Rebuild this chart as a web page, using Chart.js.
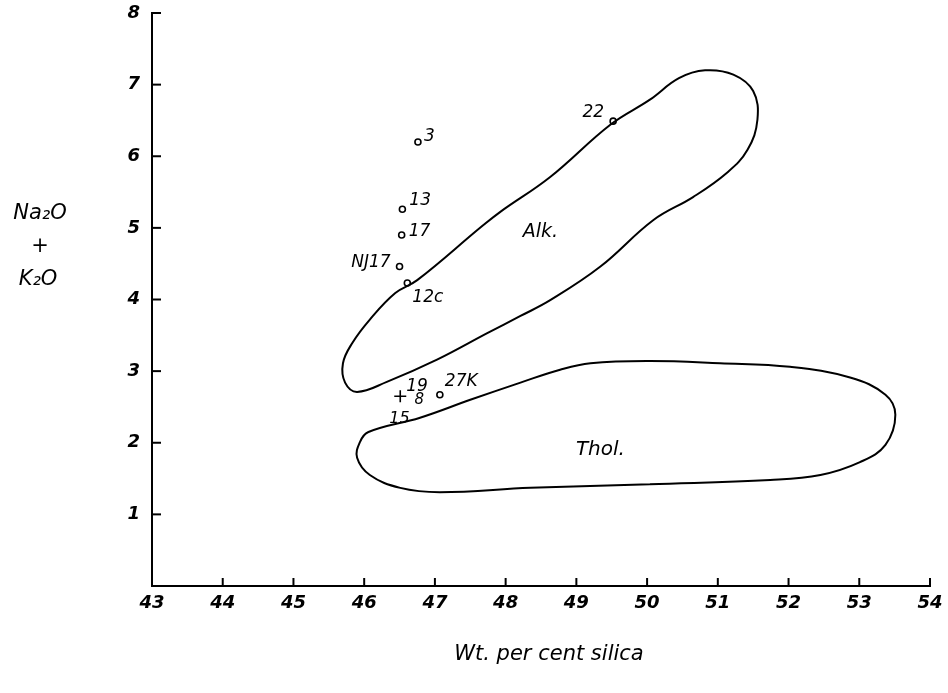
<!DOCTYPE html>
<html>
<head>
<meta charset="utf-8">
<script src="https://cdn.jsdelivr.net/npm/chart.js@4"></script>
<style>
  html, body { margin: 0; padding: 0; background: #fff; }
  #wrap { width: 948px; height: 693px; }
</style>
</head>
<body>
<div id="wrap"><canvas id="tas"></canvas></div>
<script>
// Samples (wt% SiO2, Na2O + K2O)
const sampleNames = ['3', '13', '17', 'NJ17', '12c', '22', '27K', '19'];
const sampleSilica = [46.76, 46.54, 46.53, 46.50, 46.61, 49.52, 47.07, 46.51];
const sampleAlkali = [6.20, 5.26, 4.90, 4.46, 4.23, 6.49, 2.67, 2.65];
const sampleMarker = ['circle', 'circle', 'circle', 'circle', 'circle', 'circle', 'circle', 'cross'];
// label offsets in px from the point
const labelDx = [6, 7, 7, -9, 5, -9, 5, 6];
const labelDy = [-5, -9, -3, -4, 15, -9, -13, -10];
const labelAlign = ['left', 'left', 'left', 'right', 'left', 'right', 'left', 'left'];

// Alkaline field outline
const alkSilica = [47.60, 47.92, 48.63, 49.48, 50.04, 50.45, 50.82, 51.22, 51.50, 51.56, 51.42, 51.13, 50.65, 50.09, 49.34, 48.63, 48.21, 47.74, 47.03, 46.32, 45.90, 45.73, 45.70, 45.83, 46.08, 46.44, 46.75, 47.60];
const alkAlkali = [4.97, 5.22, 5.71, 6.44, 6.79, 7.09, 7.20, 7.14, 6.91, 6.51, 6.09, 5.77, 5.43, 5.11, 4.46, 3.99, 3.77, 3.53, 3.16, 2.85, 2.71, 2.84, 3.11, 3.39, 3.72, 4.09, 4.27, 4.97];

// Tholeiitic field outline
const tholSilica = [50.04, 48.35, 47.07, 46.51, 46.08, 45.90, 45.94, 46.06, 46.79, 47.50, 48.21, 48.77, 49.20, 50.04, 51.03, 52.02, 52.87, 53.37, 53.51, 53.37, 53.01, 52.45, 51.74, 50.04];
const tholAlkali = [1.42, 1.37, 1.31, 1.37, 1.55, 1.79, 2.01, 2.15, 2.35, 2.60, 2.84, 3.02, 3.11, 3.14, 3.11, 3.06, 2.91, 2.67, 2.39, 1.97, 1.73, 1.55, 1.48, 1.42];

// Free text in the plot
const noteText = ['Alk.', 'Thol.', '8', '15'];
const noteSilica = [48.49, 49.34, 46.78, 46.50];
const noteAlkali = [4.94, 1.90, 2.59, 2.34];
const noteSize = [19, 20, 15, 16];

const xTicks = [43, 44, 45, 46, 47, 48, 49, 50, 51, 52, 53, 54];
const yTicks = [1, 2, 3, 4, 5, 6, 7, 8];

function toPts(xs, ys) {
    return xs.map((x, i) => ({ x: x, y: ys[i] }));
}

// inward tick marks, point labels, notes and axis titles
const decorations = {
    id: 'decorations',
    afterDraw(chart) {
        const ctx = chart.ctx;
        const xs = chart.scales.x, ys = chart.scales.y;
        const area = chart.chartArea;
        ctx.save();
        ctx.strokeStyle = '#000';
        ctx.lineWidth = 2;
        xTicks.forEach(v => {
            const px = xs.getPixelForValue(v);
            ctx.beginPath();
            ctx.moveTo(px, area.bottom);
            ctx.lineTo(px, area.bottom - 8);
            ctx.stroke();
        });
        yTicks.forEach(v => {
            const py = ys.getPixelForValue(v);
            ctx.beginPath();
            ctx.moveTo(area.left, py);
            ctx.lineTo(area.left + 9, py);
            ctx.stroke();
        });

        ctx.fillStyle = '#000';
        ctx.textBaseline = 'middle';
        ctx.font = 'italic 17px "DejaVu Sans", sans-serif';
        const meta = chart.getDatasetMeta(2);
        meta.data.forEach((pt, i) => {
            ctx.textAlign = labelAlign[i];
            ctx.fillText(sampleNames[i], pt.x + labelDx[i], pt.y + labelDy[i]);
        });

        ctx.textAlign = 'center';
        noteText.forEach((t, i) => {
            ctx.font = 'italic ' + noteSize[i] + 'px "DejaVu Sans", sans-serif';
            ctx.fillText(t, xs.getPixelForValue(noteSilica[i]), ys.getPixelForValue(noteAlkali[i]));
        });

        ctx.font = 'italic 21px "DejaVu Sans", sans-serif';
        ctx.fillText('Wt. per cent silica', (area.left + area.right) / 2 + 8, 655);
        ctx.fillText('Na\u2082O', 40, 214);
        ctx.fillText('+', 40, 247);
        ctx.fillText('K\u2082O', 38, 280);
        ctx.restore();
    }
};

new Chart(document.getElementById('tas'), {
    type: 'scatter',
    data: {
        datasets: [
            {
                label: 'Alk.',
                data: toPts(alkSilica, alkAlkali),
                showLine: true,
                tension: 0.4,
                borderColor: '#000',
                borderWidth: 2,
                pointRadius: 0,
                fill: false
            },
            {
                label: 'Thol.',
                data: toPts(tholSilica, tholAlkali),
                showLine: true,
                tension: 0.4,
                borderColor: '#000',
                borderWidth: 2,
                pointRadius: 0,
                fill: false
            },
            {
                label: 'Samples',
                data: toPts(sampleSilica, sampleAlkali),
                pointStyle: sampleMarker,
                pointRadius: sampleMarker.map(m => m === 'cross' ? 6 : 3),
                pointBorderWidth: 1.6,
                pointBorderColor: '#000',
                pointBackgroundColor: '#fff'
            }
        ]
    },
    options: {
        responsive: true,
        maintainAspectRatio: false,
        animation: false,
        layout: { padding: { top: 13, right: 18, left: 0, bottom: 0 } },
        plugins: {
            legend: { display: false },
            tooltip: { enabled: false }
        },
        scales: {
            x: {
                type: 'linear',
                min: 43,
                max: 54,
                afterBuildTicks: s => { s.ticks = xTicks.map(v => ({ value: v })); },
                afterFit: s => { s.height = 107; s.paddingLeft = 0; s.paddingRight = 0; },
                grid: { display: false, drawTicks: false },
                border: { display: true, color: '#000', width: 2 },
                ticks: {
                    padding: 7,
                    color: '#000',
                    font: { family: '"DejaVu Sans", sans-serif', style: 'italic', weight: 'bold', size: 18 }
                }
            },
            y: {
                type: 'linear',
                min: 0,
                max: 8,
                afterBuildTicks: s => { s.ticks = yTicks.map(v => ({ value: v })); },
                afterFit: s => { s.width = 152; s.paddingTop = 0; s.paddingBottom = 0; },
                grid: { display: false, drawTicks: false },
                border: { display: true, color: '#000', width: 2 },
                ticks: {
                    padding: 12,
                    color: '#000',
                    font: { family: '"DejaVu Sans", sans-serif', style: 'italic', weight: 'bold', size: 18 }
                }
            }
        }
    },
    plugins: [decorations]
});
</script>
</body>
</html>
